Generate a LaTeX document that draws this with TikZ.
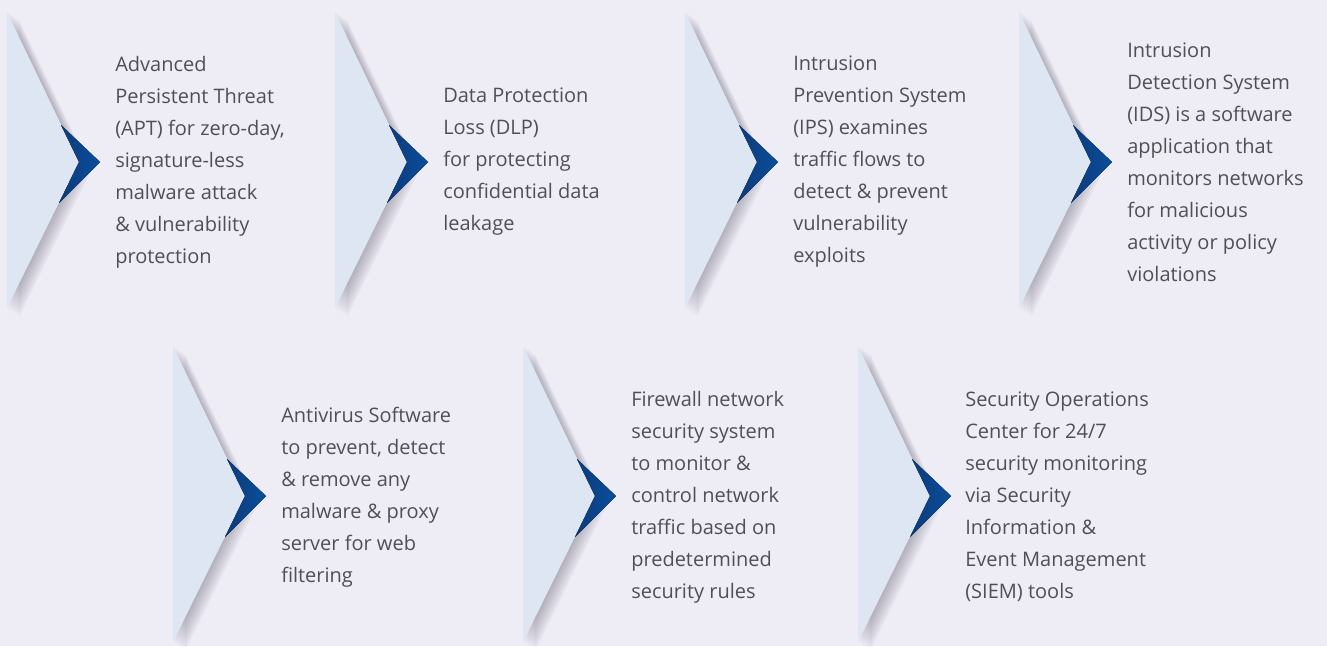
\documentclass[tikz,border=0pt]{standalone}
\usepackage{fontspec}
\setmainfont{Open Sans}
\definecolor{bgcol}{HTML}{EEEDF6}
\definecolor{panelcol}{HTML}{DFE6F3}
\definecolor{tipdark}{HTML}{0C3A79}
\definecolor{tiplight}{HTML}{0B4E9C}
\definecolor{txtcol}{HTML}{505054}
\definecolor{shadecol}{HTML}{3A3A48}
\tikzset{
  softshade/.style={preaction={fill=shadecol, opacity=0.05, transform canvas={xshift=#1*1.3pt, yshift=-#1*0.9pt}}},
  panel/.style={softshade=1, softshade=2, softshade=3, softshade=4, softshade=5, softshade=6, softshade=7, fill=panelcol},
  tipmark/.style={left color=tipdark, right color=tiplight},
  info/.style={anchor=west, align=left, inner sep=0pt, text=txtcol, font=\fontsize{15pt}{24pt}\selectfont}
}
\begin{document}
\begin{tikzpicture}[x=0.75pt, y=-0.75pt]
        \fill[bgcol] (0,0) rectangle (1327,646);
        \useasboundingbox (0,0) rectangle (1327,646);

        \fill[panel, shift={(7,12)}] (0,0) -- (72,150) -- (0,296) -- cycle;
        \fill[panel, shift={(335,12)}] (0,0) -- (72,150) -- (0,296) -- cycle;
        \fill[panel, shift={(685,12)}] (0,0) -- (72,150) -- (0,296) -- cycle;
        \fill[panel, shift={(1019,12)}] (0,0) -- (72,150) -- (0,296) -- cycle;
        \fill[panel, shift={(173,346)}] (0,0) -- (72,150) -- (0,296) -- cycle;
        \fill[panel, shift={(523,346)}] (0,0) -- (72,150) -- (0,296) -- cycle;
        \fill[panel, shift={(858,346)}] (0,0) -- (72,150) -- (0,296) -- cycle;

        \fill[tipmark, shift={(7,12)}] (54,113) -- (93,150) -- (52,191) -- (72,150) -- cycle;
        \fill[tipmark, shift={(335,12)}] (54,113) -- (93,150) -- (52,191) -- (72,150) -- cycle;
        \fill[tipmark, shift={(685,12)}] (54,113) -- (93,150) -- (52,191) -- (72,150) -- cycle;
        \fill[tipmark, shift={(1019,12)}] (54,113) -- (93,150) -- (52,191) -- (72,150) -- cycle;
        \fill[tipmark, shift={(173,346)}] (54,113) -- (93,150) -- (52,191) -- (72,150) -- cycle;
        \fill[tipmark, shift={(523,346)}] (54,113) -- (93,150) -- (52,191) -- (72,150) -- cycle;
        \fill[tipmark, shift={(858,346)}] (54,113) -- (93,150) -- (52,191) -- (72,150) -- cycle;

        \node[info] (apt) at (115,162) {Advanced\\Persistent Threat\\(APT) for zero-day,\\signature-less\\malware attack\\\& vulnerability\\protection};
        \node[info] (dlp) at (443,162) {Data Protection\\Loss (DLP)\\for protecting\\confidential data\\leakage};
        \node[info] (ips) at (793,162) {Intrusion\\Prevention System\\(IPS) examines\\traffic flows to\\detect \& prevent\\vulnerability\\exploits};
        \node[info] (ids) at (1127,162) {Intrusion\\Detection System\\(IDS) is a software\\application that\\monitors networks\\for malicious\\activity or policy\\violations};
        \node[info] (av) at (281,497) {Antivirus Software\\to prevent, detect\\\& remove any\\malware \& proxy\\server for web\\filtering};
        \node[info] (fw) at (631,497) {Firewall network\\security system\\to monitor \&\\control network\\traffic based on\\predetermined\\security rules};
        \node[info] (soc) at (965,497) {Security Operations\\Center for 24/7\\security monitoring\\via Security\\Information \&\\Event Management\\(SIEM) tools};

\end{tikzpicture}
\end{document}
